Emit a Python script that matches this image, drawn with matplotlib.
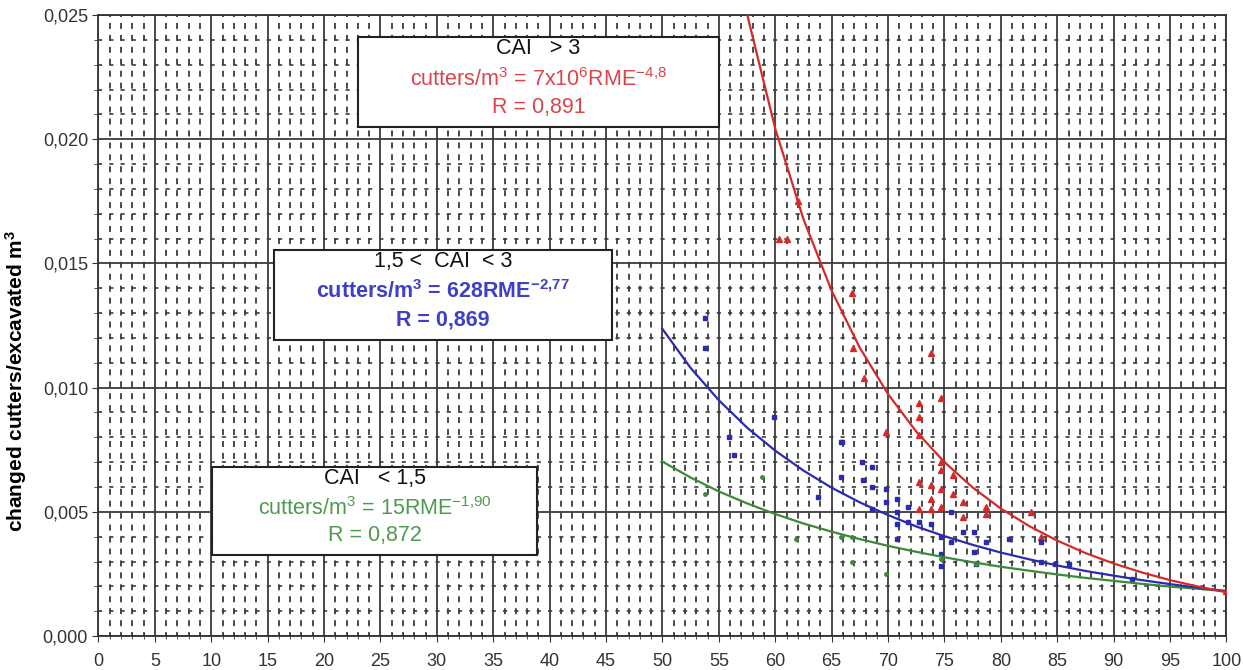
import matplotlib
matplotlib.use("Agg")
import matplotlib.pyplot as plt
from matplotlib.ticker import MultipleLocator

plt.rcParams['font.family'] = ['Liberation Sans', 'DejaVu Sans']
plt.rcParams['mathtext.fontset'] = 'custom'
plt.rcParams['mathtext.rm'] = 'Liberation Sans'
plt.rcParams['mathtext.it'] = 'Liberation Sans:italic'
plt.rcParams['mathtext.bf'] = 'Liberation Sans:bold'
plt.rcParams['lines.scale_dashes'] = False

# ---- data ----
xticks = [0, 5, 10, 15, 20, 25, 30, 35, 40, 45, 50, 55, 60, 65, 70, 75, 80, 85, 90, 95, 100]
yticks = [0.000, 0.005, 0.010, 0.015, 0.020, 0.025]
ytick_labels = ["0,000", "0,005", "0,010", "0,015", "0,020", "0,025"]

# trend lines
red_fit_x = [57.5, 60, 62.5, 65, 67.5, 70, 72.5, 75, 77.5, 80, 82.5, 85, 87.5, 90, 92.5, 95, 97.5, 100]
red_fit_y = [0.02504, 0.02042, 0.01678, 0.01390, 0.01160, 0.00974, 0.00823, 0.00700, 0.00598, 0.00513,
             0.00443, 0.00384, 0.00334, 0.00292, 0.00256, 0.00225, 0.00199, 0.00176]
blue_fit_x = [50, 52.5, 55, 57.5, 60, 62.5, 65, 67.5, 70, 72.5, 75, 77.5, 80, 82.5, 85, 87.5, 90, 92.5, 95, 97.5, 100]
blue_fit_y = [0.01236, 0.01079, 0.00949, 0.00839, 0.00746, 0.00666, 0.00597, 0.00538, 0.00487, 0.00441,
              0.00402, 0.00367, 0.00336, 0.00309, 0.00284, 0.00262, 0.00243, 0.00225, 0.00209, 0.00194, 0.00181]
green_fit_x = [50, 52.5, 55, 57.5, 60, 62.5, 65, 67.5, 70, 72.5, 75, 77.5, 80, 82.5, 85, 87.5, 90, 92.5, 95, 97.5, 100]
green_fit_y = [0.00702, 0.00638, 0.00582, 0.00534, 0.00491, 0.00453, 0.00420, 0.00390, 0.00363, 0.00339,
               0.00317, 0.00297, 0.00279, 0.00263, 0.00248, 0.00234, 0.00222, 0.00210, 0.00199, 0.00190, 0.00180]

# measured points
red_x = [60.3, 61.0, 62.0, 66.8, 66.9, 67.9, 69.8, 72.7, 72.7, 72.7, 73.8, 74.7, 74.7, 72.7, 72.7, 73.8, 73.8,
         73.8, 74.7, 74.7, 74.7, 75.8, 75.8, 76.6, 76.6, 78.7, 78.7, 82.7, 83.6, 100]
red_y = [0.0160, 0.0160, 0.0175, 0.0138, 0.0116, 0.0104, 0.0082, 0.0094, 0.0088, 0.0081, 0.0114, 0.0096, 0.0070,
         0.0062, 0.0051, 0.0061, 0.0055, 0.0051, 0.0067, 0.0059, 0.0052, 0.0065, 0.0057, 0.0054, 0.0048,
         0.0052, 0.0049, 0.0050, 0.0040, 0.0018]
blue_x = [53.8, 53.8, 55.9, 56.3, 59.9, 63.8, 65.8, 65.8, 65.9, 67.7, 67.8, 68.6, 68.6, 68.6, 69.8, 69.8,
          70.8, 70.8, 70.8, 70.8, 71.8, 71.8, 72.7, 73.8, 74.7, 74.7, 74.7, 75.6, 75.6, 76.6, 77.6, 77.6,
          77.8, 78.7, 80.7, 83.6, 83.6, 84.8, 86.0, 91.6]
blue_y = [0.0128, 0.0116, 0.0080, 0.0073, 0.0088, 0.0056, 0.0078, 0.0064, 0.0078, 0.0070, 0.0063, 0.0068,
          0.0060, 0.0051, 0.0059, 0.0054, 0.0055, 0.0050, 0.0045, 0.0039, 0.0052, 0.0046, 0.0046, 0.0045,
          0.0040, 0.0033, 0.0028, 0.0050, 0.0038, 0.0042, 0.0042, 0.0034, 0.0029, 0.0038, 0.0039, 0.0038,
          0.0030, 0.0029, 0.0029, 0.0023]
green_x = [53.8, 58.8, 61.8, 65.8, 66.8, 66.8, 69.8, 74.7, 77.8]
green_y = [0.0057, 0.0064, 0.0039, 0.0040, 0.0040, 0.0030, 0.0025, 0.0031, 0.0029]

# ---- colours ----
RED = "#d42a2a"
BLUE = "#2b2bb0"
GREEN = "#3b8a3b"
RED_T = "#d9454a"
BLUE_T = "#3f3fc8"
GREEN_T = "#4e9a4e"

fig = plt.figure(figsize=(12.43, 6.70), dpi=100)
ax = fig.add_axes([0.0792, 0.0507, 0.9075, 0.9269])

ax.set_xlim(0, 100)
ax.set_ylim(0, 0.025)
ax.set_xticks(xticks)
ax.set_yticks(yticks)
ax.set_yticklabels(ytick_labels)
ax.xaxis.set_minor_locator(MultipleLocator(1))
ax.yaxis.set_minor_locator(MultipleLocator(0.001))

ax.set_axisbelow(True)
ax.xaxis.grid(True, which='major', color='#3a3a3a', linewidth=1.3, linestyle='-')
ax.yaxis.grid(True, which='major', color='#3a3a3a', linewidth=1.3, linestyle='-')
ax.xaxis.grid(True, which='minor', color='#3c3c3c', linewidth=1.3, linestyle=(1.5, (4.3, 4.3)))
ax.yaxis.grid(True, which='minor', color='#3c3c3c', linewidth=1.2, linestyle=(0, (3.0, 5.1)))

for s in ax.spines.values():
    s.set_color('#333333')
    s.set_linewidth(1.3)

ax.tick_params(axis='both', which='major', direction='out', length=4, color='#333333',
               labelsize=13, labelcolor='#333333')
ax.tick_params(axis='x', which='major', pad=8)
ax.tick_params(axis='x', which='minor', direction='inout', length=5, color='#333333')
ax.tick_params(axis='y', which='minor', direction='out', length=3, color='#333333')

# scatter points
ax.plot(red_x, red_y, linestyle='none', marker='^', markersize=4, color=RED, zorder=3)
ax.plot(blue_x, blue_y, linestyle='none', marker='s', markersize=3, color=BLUE, zorder=3)
ax.plot(green_x, green_y, linestyle='none', marker='o', markersize=2.5, color=GREEN, zorder=3)

# trend lines
ax.plot(green_fit_x, green_fit_y, color=GREEN, linewidth=1.6, zorder=4)
ax.plot(blue_fit_x, blue_fit_y, color=BLUE, linewidth=1.6, zorder=4)
ax.plot(red_fit_x, red_fit_y, color=RED, linewidth=1.6, zorder=5)

ax.set_ylabel("changed cutters/excavated m$^\\mathbf{3}$", fontsize=15, fontweight='bold')
ax.yaxis.set_label_coords(-0.062, 0.41)


def box(x0, y0, x1, y1, lines):
    ax.add_patch(plt.Rectangle((x0, y0), x1 - x0, y1 - y0, facecolor='white', edgecolor='#222222',
                               linewidth=1.5, zorder=6))
    xc = (x0 + x1) / 2
    h = y1 - y0
    fracs = [0.87, 0.53, 0.22]
    for (txt, col, bold), f in zip(lines, fracs):
        ax.text(xc, y0 + h * f, txt, color=col, ha='center', va='center', fontsize=15.5,
                fontweight='bold' if bold else 'normal', zorder=7)


box(23.0, 0.02048, 55.0, 0.02411, [
    ("CAI   > 3", "#111111", False),
    ("cutters/m$^{3}$ = 7x10$^{6}$RME$^{\\mathregular{-4{,}8}}$", RED_T, False),
    ("R = 0,891", RED_T, False)])
box(15.6, 0.01193, 45.5, 0.01556, [
    ("1,5 <  CAI  < 3", "#111111", False),
    ("cutters/m$^{\\mathbf{3}}$ = 628RME$^{\\mathbf{-2{,}77}}$", BLUE_T, True),
    ("R = 0,869", BLUE_T, True)])
box(10.1, 0.00327, 38.9, 0.00681, [
    ("CAI   < 1,5", "#111111", False),
    ("cutters/m$^{3}$ = 15RME$^{\\mathregular{-1{,}90}}$", GREEN_T, False),
    ("R = 0,872", GREEN_T, False)])

fig.savefig("out.png", dpi=100, facecolor='white')
